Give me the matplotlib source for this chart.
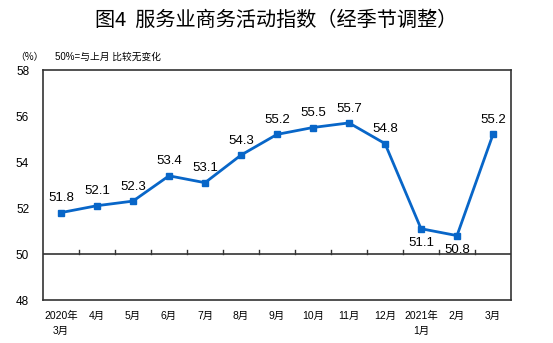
import matplotlib
matplotlib.use("Agg")
import matplotlib.pyplot as plt

plt.rcParams["font.family"] = ["Liberation Sans", "Noto Sans CJK SC"]

months = ["2020年\n3月", "4月", "5月", "6月", "7月", "8月", "9月", "10月", "11月", "12月", "2021年\n1月", "2月", "3月"]
values = [51.8, 52.1, 52.3, 53.4, 53.1, 54.3, 55.2, 55.5, 55.7, 54.8, 51.1, 50.8, 55.2]
below = [False] * 10 + [True, True, False]

line_color = "#0866C8"

fig = plt.figure(figsize=(5.53, 3.43), dpi=100)
ax = fig.add_axes([43 / 553, 1 - 300 / 343, 468 / 553, 230 / 343])

x = list(range(len(values)))
ax.plot(x, values, color=line_color, linewidth=2, marker="s", markersize=5)

for xi, v, b in zip(x, values, below):
    if b:
        ax.annotate(f"{v:.1f}", (xi, v), xytext=(0, -6), textcoords="offset points",
                    ha="center", va="top", fontsize=9.5)
    else:
        ax.annotate(f"{v:.1f}", (xi, v), xytext=(0, 6), textcoords="offset points",
                    ha="center", va="bottom", fontsize=9.5)

ax.set_xlim(-0.5, len(values) - 0.5)
ax.set_ylim(48, 58)
ax.set_yticks([48, 50, 52, 54, 56, 58])
ax.tick_params(axis="y", length=0, labelsize=8.5, pad=10)

# x axis drawn along the 50 line, ticks between categories
ax.axhline(50, color="#333333", linewidth=1.2)
for i in range(1, len(values)):
    ax.plot([i - 0.5, i - 0.5], [50, 50.17], color="#333333", linewidth=1)
ax.set_xticks(x)
ax.set_xticklabels(months, fontsize=7.5, linespacing=1.6, va="top")
ax.tick_params(axis="x", length=0, pad=8)

for s in ax.spines.values():
    s.set_color("#333333")
    s.set_linewidth(1.2)

fig.text(0.5, 1 - 20 / 343, "图4  服务业商务活动指数（经季节调整）", ha="center", va="center",
         fontsize=14.5, family=["Noto Sans CJK SC"])
fig.text(29 / 553, 1 - 57 / 343, "（%）", ha="center", va="center", fontsize=7,
         family=["Noto Sans CJK SC"])
fig.text(55 / 553, 1 - 57 / 343, "50%=与上月 比较无变化", ha="left", va="center", fontsize=7)

fig.savefig("out.png", dpi=100)
